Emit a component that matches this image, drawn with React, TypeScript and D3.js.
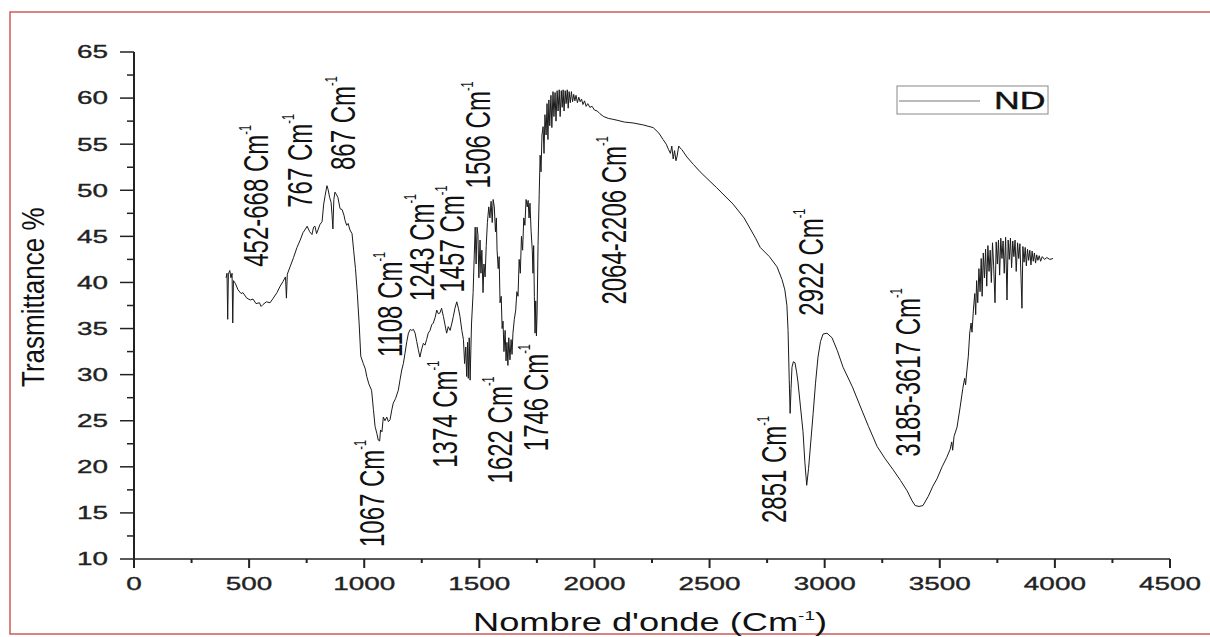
import React from "react";
import * as d3 from "d3";

// FTIR spectrum of sample ND: [wavenumber (cm-1), transmittance (%)]
const spectrum: [number, number][] = [
  [400, 40.5], [404, 41.0], [407, 36.0], [410, 40.9], [416, 41.3], [421, 40.5], [426, 41.0], [429, 35.6],
  [432, 40.2], [440, 39.9], [452, 39.2], [465, 38.8], [473, 38.9], [490, 38.3], [505, 38.1], [517, 38.2],
  [530, 37.7], [545, 37.8], [552, 37.4], [560, 37.6], [575, 37.9], [591, 37.8], [605, 38.3], [621, 38.9],
  [635, 39.6], [647, 40.1], [658, 40.6], [662, 38.3], [666, 40.9], [678, 41.7], [693, 42.7], [708, 43.8],
  [722, 44.6], [734, 45.4], [745, 45.8], [752, 46.1], [763, 45.5], [773, 45.2], [780, 46.0], [786, 46.1],
  [793, 45.3], [799, 45.7], [808, 46.3], [817, 46.6], [824, 48.5], [830, 49.4], [838, 50.5], [843, 50.1],
  [850, 49.2], [856, 48.7], [860, 47.4], [864, 45.8], [868, 49.0], [873, 49.8], [880, 49.5], [886, 49.2],
  [895, 48.0], [904, 47.9], [912, 47.3], [917, 46.7], [924, 46.2], [930, 46.4], [938, 45.7], [947, 45.3],
  [954, 43.5], [962, 41.5], [970, 38.8], [978, 35.5], [985, 32.0], [996, 31.2], [1005, 30.6], [1011, 29.8],
  [1020, 29.0], [1032, 28.3], [1040, 26.2], [1047, 24.4], [1055, 23.6], [1061, 22.9], [1067, 22.8], [1071, 24.0],
  [1077, 23.8], [1083, 25.4], [1090, 25.0], [1098, 25.4], [1105, 24.9], [1112, 25.1], [1120, 26.2], [1126, 26.9],
  [1136, 27.4], [1148, 28.3], [1156, 29.5], [1163, 30.5], [1170, 31.2], [1177, 32.3], [1185, 33.6], [1192, 34.5],
  [1200, 34.9], [1206, 34.8], [1214, 34.9], [1221, 34.5], [1228, 33.6], [1235, 32.7], [1242, 31.9], [1250, 32.8],
  [1257, 33.4], [1264, 33.2], [1271, 33.8], [1278, 34.5], [1286, 34.8], [1293, 35.4], [1300, 35.6], [1308, 36.2],
  [1315, 37.0], [1322, 36.6], [1329, 36.7], [1336, 37.2], [1344, 36.3], [1351, 35.4], [1358, 34.5], [1365, 35.2],
  [1373, 34.8], [1380, 35.5], [1387, 36.3], [1394, 37.2], [1402, 37.9], [1409, 37.2], [1416, 36.3], [1424, 34.8],
  [1431, 33.8], [1436, 31.2], [1441, 33.0], [1445, 29.8], [1449, 33.5], [1452, 29.6], [1456, 34.0], [1460, 29.4],
  [1466, 35.5], [1473, 38.9], [1478, 43.0], [1482, 46.0], [1486, 42.0], [1490, 46.0], [1494, 45.2], [1498, 40.5],
  [1503, 44.6], [1507, 41.0], [1511, 43.5], [1516, 38.9], [1520, 42.0], [1525, 40.6], [1530, 44.0], [1535, 46.5],
  [1541, 48.2], [1546, 47.0], [1551, 48.8], [1556, 46.5], [1560, 49.0], [1565, 48.2], [1570, 45.5], [1574, 47.0],
  [1577, 43.5], [1582, 41.5], [1586, 42.8], [1590, 37.8], [1595, 38.5], [1599, 35.0], [1603, 35.8], [1607, 32.5],
  [1612, 34.8], [1616, 31.5], [1620, 33.5], [1624, 31.0], [1628, 34.0], [1633, 31.6], [1638, 33.8], [1642, 32.2],
  [1646, 34.5], [1652, 36.0], [1658, 37.0], [1663, 39.0], [1668, 38.5], [1673, 42.5], [1678, 41.0], [1683, 45.0],
  [1688, 43.5], [1693, 47.0], [1698, 46.2], [1703, 49.0], [1708, 48.2], [1712, 48.9], [1716, 47.0], [1720, 48.6],
  [1725, 45.5], [1730, 43.5], [1733, 41.0], [1736, 44.0], [1739, 38.5], [1742, 34.5], [1745, 38.0], [1748, 34.2],
  [1751, 36.8], [1755, 44.0], [1760, 49.5], [1764, 53.8], [1768, 52.0], [1772, 56.0], [1777, 56.9], [1781, 54.0],
  [1785, 58.2], [1790, 56.0], [1794, 59.4], [1798, 55.5], [1802, 59.8], [1806, 57.0], [1811, 60.3], [1815, 56.8],
  [1820, 60.7], [1824, 58.0], [1829, 60.6], [1833, 57.5], [1838, 60.8], [1842, 58.6], [1847, 60.9], [1851, 58.0],
  [1856, 60.8], [1860, 59.0], [1864, 60.9], [1868, 58.6], [1873, 60.8], [1877, 59.4], [1882, 60.9], [1886, 58.9],
  [1890, 60.7], [1895, 59.5], [1900, 60.7], [1905, 59.6], [1910, 60.4], [1915, 59.7], [1920, 60.3], [1926, 59.5],
  [1932, 60.1], [1938, 59.6], [1944, 59.9], [1950, 59.3], [1957, 59.7], [1964, 59.1], [1971, 59.4], [1980, 59.0],
  [1990, 59.1], [2000, 58.7], [2012, 58.6], [2024, 58.3], [2040, 58.0], [2060, 57.8], [2080, 57.7], [2098, 57.6],
  [2130, 57.4], [2168, 57.3], [2210, 57.1], [2255, 56.8], [2280, 56.2], [2298, 55.5], [2312, 55.0], [2322, 54.4],
  [2330, 54.0], [2336, 54.8], [2342, 53.4], [2348, 54.3], [2354, 53.2], [2359, 53.7], [2366, 54.8], [2372, 54.6],
  [2380, 54.4], [2402, 53.6], [2430, 52.8], [2459, 52.0], [2530, 50.3], [2602, 48.5], [2650, 47.0], [2700, 44.8],
  [2720, 43.8], [2760, 42.8], [2793, 41.7], [2815, 40.3], [2827, 39.2], [2836, 37.5], [2841, 34.8], [2846, 29.5],
  [2850, 25.8], [2854, 28.5], [2858, 30.8], [2864, 31.4], [2871, 31.3], [2878, 30.3], [2884, 29.2], [2895, 26.5],
  [2906, 23.8], [2914, 20.5], [2922, 18.0], [2930, 19.8], [2940, 22.8], [2950, 25.8], [2960, 29.0], [2971, 31.9],
  [2982, 33.6], [2993, 34.4], [3010, 34.5], [3032, 34.0], [3055, 32.6], [3080, 30.8], [3120, 28.7], [3154, 26.6],
  [3190, 24.4], [3228, 22.2], [3262, 20.9], [3297, 19.7], [3330, 18.5], [3358, 17.4], [3380, 16.3], [3393, 15.8],
  [3410, 15.7], [3427, 15.8], [3450, 16.8], [3470, 17.9], [3488, 18.7], [3510, 20.0], [3530, 21.0], [3545, 21.9],
  [3552, 22.7], [3556, 21.8], [3562, 23.3], [3575, 24.3], [3588, 26.4], [3600, 28.5], [3608, 29.6], [3612, 28.9],
  [3618, 30.5], [3624, 32.0], [3630, 34.5], [3636, 35.6], [3640, 34.6], [3646, 37.0], [3652, 38.8], [3656, 36.5],
  [3660, 40.2], [3665, 37.8], [3670, 41.5], [3675, 39.0], [3680, 42.6], [3684, 38.5], [3689, 43.2], [3694, 40.5],
  [3699, 43.6], [3704, 39.6], [3709, 44.0], [3714, 41.2], [3719, 43.5], [3724, 40.0], [3729, 44.3], [3734, 41.8],
  [3740, 37.8], [3745, 44.4], [3750, 42.0], [3755, 44.6], [3760, 40.8], [3765, 44.8], [3770, 42.6], [3775, 44.5],
  [3780, 41.0], [3786, 44.9], [3792, 38.1], [3797, 44.6], [3802, 42.5], [3807, 44.8], [3812, 41.6], [3817, 44.5],
  [3822, 42.8], [3827, 44.6], [3832, 41.2], [3838, 44.3], [3843, 42.6], [3848, 44.2], [3853, 40.5], [3857, 37.2],
  [3861, 43.9], [3866, 42.2], [3871, 43.8], [3876, 41.8], [3881, 43.6], [3886, 42.4], [3891, 43.5], [3896, 41.9],
  [3901, 43.4], [3906, 42.3], [3911, 43.2], [3916, 42.1], [3921, 43.0], [3926, 42.4], [3932, 42.9], [3938, 42.3],
  [3945, 42.8], [3955, 42.5], [3965, 42.7], [3978, 42.5], [3992, 42.6],
];

// band annotations, anchored at (wavenumber, transmittance) where the rotated label starts
const bandLabels = ["452-668", "767", "867", "1067", "1108", "1243", "1374", "1457", "1506", "1622", "1746", "2064-2206", "2851", "2922", "3185-3617"];
const bandAnchorWn = [530, 717, 904, 1030, 1112, 1247, 1347, 1381, 1494, 1586, 1742, 2081, 2780, 2937, 3358];
const bandAnchorT = [41.7, 48.1, 52.2, 11.3, 31.9, 38.0, 19.9, 38.9, 50.2, 18.2, 21.7, 37.6, 13.9, 36.4, 21.1];

const xTicks = [0, 500, 1000, 1500, 2000, 2500, 3000, 3500, 4000, 4500];
const xMinorTicks = [250, 750, 1250, 1750, 2250, 2750, 3250, 3750, 4250];
const yTicks = [10, 15, 20, 25, 30, 35, 40, 45, 50, 55, 60, 65];
const yMinorTicks = [12.5, 17.5, 22.5, 27.5, 32.5, 37.5, 42.5, 47.5, 52.5, 57.5, 62.5];
const seriesName = "ND";

const FONT = "'Liberation Sans', Arial, Helvetica, sans-serif";

export default function App() {
  const width = 1210;
  const height = 637;
  const x = d3.scaleLinear().domain([0, 4500]).range([134, 1170]);
  const y = d3.scaleLinear().domain([10, 65]).range([559, 52]);
  const line = d3
    .line<[number, number]>()
    .x(d => x(d[0]))
    .y(d => y(d[1]));

  const x0 = x(0);
  const yBase = y(10);

  return (
    <svg
      width={width}
      height={height}
      style={{ position: "absolute", left: 0, top: 0, background: "#fff" }}
      fontFamily={FONT}
    >
      <rect x={10} y={12} width={1260} height={622} fill="#fff" stroke="#cf5b5b" strokeWidth={1.5} />

      {/* y axis */}
      <line x1={x0} x2={x0} y1={y(65)} y2={yBase} stroke="#222" strokeWidth={2} />
      {yTicks.map(t => (
        <g key={"yt" + t}>
          <line x1={x0 - 14} x2={x0} y1={y(t)} y2={y(t)} stroke="#222" strokeWidth={1.5} />
          <text
            transform={`translate(108,${y(t) + 6.4}) scale(1.55,1)`}
            textAnchor="end"
            fontSize={18}
            fill="#222"
            stroke="#222"
            strokeWidth={0.35}
          >
            {t}
          </text>
        </g>
      ))}
      {yMinorTicks.map(t => (
        <line key={"ym" + t} x1={x0 - 7} x2={x0} y1={y(t)} y2={y(t)} stroke="#222" strokeWidth={1.5} />
      ))}

      {/* x axis */}
      <line x1={x0} x2={x(4500)} y1={yBase} y2={yBase} stroke="#222" strokeWidth={1.5} />
      {xTicks.map(t => (
        <g key={"xt" + t}>
          <line x1={x(t)} x2={x(t)} y1={yBase} y2={yBase + 9} stroke="#222" strokeWidth={2} />
          <text
            transform={`translate(${x(t)},590) scale(1.55,1)`}
            textAnchor="middle"
            fontSize={18}
            fill="#222"
            stroke="#222"
            strokeWidth={0.35}
          >
            {t}
          </text>
        </g>
      ))}
      {xMinorTicks.map(t => (
        <line key={"xm" + t} x1={x(t)} x2={x(t)} y1={yBase} y2={yBase + 4} stroke="#222" strokeWidth={2} />
      ))}

      {/* spectrum */}
      <path d={line(spectrum) || ""} fill="none" stroke="#1a1a1a" strokeWidth={1} strokeLinejoin="round" />

      {/* band annotations */}
      {bandLabels.map((lab, i) => (
        <text
          key={"b" + i}
          transform={`translate(${x(bandAnchorWn[i])},${y(bandAnchorT[i])}) scale(1.45,1) rotate(-90)`}
          y={8.6}
          fontSize={24}
          fill="#111"
        >
          {lab} Cm
          <tspan fontSize={11} dy={-12}>
            -1
          </tspan>
        </text>
      ))}

      {/* legend */}
      <rect x={897} y={86} width={151} height={28} fill="#fff" stroke="#888" strokeWidth={1} />
      <line x1={899} x2={980} y1={101} y2={101} stroke="#777" strokeWidth={1} />
      <text
        transform="translate(994,109) scale(1.55,1)"
        fontSize={23}
        fill="#111"
        stroke="#111"
        strokeWidth={0.4}
      >
        {seriesName}
      </text>

      {/* axis titles */}
      <text transform="translate(44,387) scale(1.18,1) rotate(-90)" fontSize={26} fill="#111">
        Trasmittance %
      </text>
      <text transform="translate(473,631) scale(1.45,1)" fontSize={25} fill="#111">
        Nombre d'onde (Cm
        <tspan fontSize={13} dy={-11}>
          -1
        </tspan>
        <tspan dy={11}>)</tspan>
      </text>
    </svg>
  );
}
